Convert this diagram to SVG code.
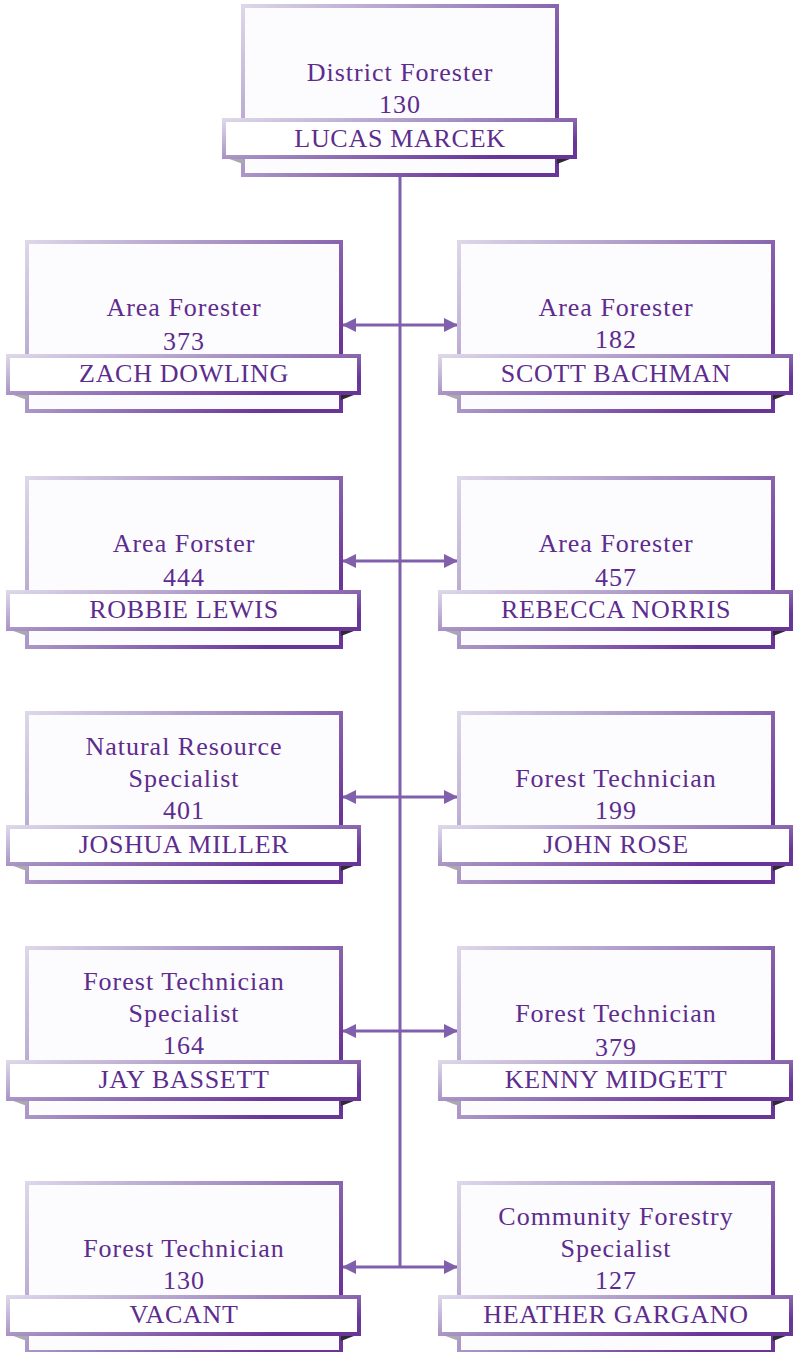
<svg xmlns="http://www.w3.org/2000/svg" width="793" height="1352" viewBox="0 0 793 1352">
<defs>
<linearGradient id="g" x1="0" y1="0" x2="1" y2="0.6">
<stop offset="0" stop-color="#ddd7e9"/>
<stop offset="0.5" stop-color="#a48dc2"/>
<stop offset="1" stop-color="#6a3598"/>
</linearGradient>
<marker id="ah" viewBox="0 0 14 14" refX="13" refY="7" markerWidth="14" markerHeight="14" markerUnits="userSpaceOnUse" orient="auto-start-reverse">
<path d="M0,0 L14,7 L0,14 Z" fill="#8060ac"/>
</marker>
</defs>
<style>
.t{font-family:"Liberation Serif","DejaVu Serif",serif;font-size:26px;fill:#5d2c8e;text-anchor:middle;letter-spacing:1px}
.n{letter-spacing:0.7px}
.b{fill:#fcfbfd;stroke:url(#g);stroke-width:4}
.w{fill:#ffffff;stroke:url(#g);stroke-width:4}
.fl{fill:#a9a9ae}
.fr{fill:#2d2a30}
.c{stroke:#8060ac;stroke-width:3;fill:none}
</style>
<g id="connectors">
<line class="c" x1="400" y1="177" x2="400" y2="1268"/>
<line class="c" x1="343" y1="325" x2="457" y2="325" marker-start="url(#ah)" marker-end="url(#ah)"/>
<line class="c" x1="343" y1="561" x2="457" y2="561" marker-start="url(#ah)" marker-end="url(#ah)"/>
<line class="c" x1="343" y1="797" x2="457" y2="797" marker-start="url(#ah)" marker-end="url(#ah)"/>
<line class="c" x1="343" y1="1031" x2="457" y2="1031" marker-start="url(#ah)" marker-end="url(#ah)"/>
<line class="c" x1="343" y1="1267" x2="457" y2="1267" marker-start="url(#ah)" marker-end="url(#ah)"/>
</g>
<g id="n-district">
<rect class="b" x="243" y="6" width="314" height="169"/>
<polygon class="fl" points="224,157 243,157 243,164"/>
<polygon class="fr" points="575,157 557,157 557,164"/>
<rect class="w" x="224" y="120" width="351" height="37"/>
<text class="t" x="400" y="81">District Forester</text>
<text class="t" x="400" y="113">130</text>
<text class="t n" x="400" y="147">LUCAS MARCEK</text>
</g>
<g id="n-zach" transform="translate(0,240)">
<rect class="b" x="27" y="2" width="314" height="169"/>
<polygon class="fl" points="8,153 27,153 27,160"/>
<polygon class="fr" points="359,153 341,153 341,160"/>
<text class="t" x="184" y="76">Area Forester</text>
<text class="t" x="184" y="110">373</text>
<rect class="w" x="8" y="116" width="351" height="37"/>
<text class="t n" x="184" y="142">ZACH DOWLING</text>
</g>
<g id="n-scott" transform="translate(432,240)">
<rect class="b" x="27" y="2" width="314" height="169"/>
<polygon class="fl" points="8,153 27,153 27,160"/>
<polygon class="fr" points="359,153 341,153 341,160"/>
<text class="t" x="184" y="76">Area Forester</text>
<text class="t" x="184" y="108">182</text>
<rect class="w" x="8" y="116" width="351" height="37"/>
<text class="t n" x="184" y="142">SCOTT BACHMAN</text>
</g>
<g id="n-robbie" transform="translate(0,476)">
<rect class="b" x="27" y="2" width="314" height="169"/>
<polygon class="fl" points="8,153 27,153 27,160"/>
<polygon class="fr" points="359,153 341,153 341,160"/>
<text class="t" x="184" y="76">Area Forster</text>
<text class="t" x="184" y="110">444</text>
<rect class="w" x="8" y="116" width="351" height="37"/>
<text class="t n" x="184" y="142">ROBBIE LEWIS</text>
</g>
<g id="n-rebecca" transform="translate(432,476)">
<rect class="b" x="27" y="2" width="314" height="169"/>
<polygon class="fl" points="8,153 27,153 27,160"/>
<polygon class="fr" points="359,153 341,153 341,160"/>
<text class="t" x="184" y="76">Area Forester</text>
<text class="t" x="184" y="110">457</text>
<rect class="w" x="8" y="116" width="351" height="37"/>
<text class="t n" x="184" y="142">REBECCA NORRIS</text>
</g>
<g id="n-joshua" transform="translate(0,711)">
<rect class="b" x="27" y="2" width="314" height="169"/>
<polygon class="fl" points="8,153 27,153 27,160"/>
<polygon class="fr" points="359,153 341,153 341,160"/>
<text class="t" x="184" y="44">Natural Resource</text>
<text class="t" x="184" y="76">Specialist</text>
<text class="t" x="184" y="108">401</text>
<rect class="w" x="8" y="116" width="351" height="37"/>
<text class="t n" x="184" y="142">JOSHUA MILLER</text>
</g>
<g id="n-john" transform="translate(432,711)">
<rect class="b" x="27" y="2" width="314" height="169"/>
<polygon class="fl" points="8,153 27,153 27,160"/>
<polygon class="fr" points="359,153 341,153 341,160"/>
<text class="t" x="184" y="76">Forest Technician</text>
<text class="t" x="184" y="108">199</text>
<rect class="w" x="8" y="116" width="351" height="37"/>
<text class="t n" x="184" y="142">JOHN ROSE</text>
</g>
<g id="n-jay" transform="translate(0,946)">
<rect class="b" x="27" y="2" width="314" height="169"/>
<polygon class="fl" points="8,153 27,153 27,160"/>
<polygon class="fr" points="359,153 341,153 341,160"/>
<text class="t" x="184" y="44">Forest Technician</text>
<text class="t" x="184" y="76">Specialist</text>
<text class="t" x="184" y="108">164</text>
<rect class="w" x="8" y="116" width="351" height="37"/>
<text class="t n" x="184" y="142">JAY BASSETT</text>
</g>
<g id="n-kenny" transform="translate(432,946)">
<rect class="b" x="27" y="2" width="314" height="169"/>
<polygon class="fl" points="8,153 27,153 27,160"/>
<polygon class="fr" points="359,153 341,153 341,160"/>
<text class="t" x="184" y="76">Forest Technician</text>
<text class="t" x="184" y="110">379</text>
<rect class="w" x="8" y="116" width="351" height="37"/>
<text class="t n" x="184" y="142">KENNY MIDGETT</text>
</g>
<g id="n-vacant" transform="translate(0,1181)">
<rect class="b" x="27" y="2" width="314" height="169"/>
<polygon class="fl" points="8,153 27,153 27,160"/>
<polygon class="fr" points="359,153 341,153 341,160"/>
<text class="t" x="184" y="76">Forest Technician</text>
<text class="t" x="184" y="108">130</text>
<rect class="w" x="8" y="116" width="351" height="37"/>
<text class="t n" x="184" y="142">VACANT</text>
</g>
<g id="n-heather" transform="translate(432,1181)">
<rect class="b" x="27" y="2" width="314" height="169"/>
<polygon class="fl" points="8,153 27,153 27,160"/>
<polygon class="fr" points="359,153 341,153 341,160"/>
<text class="t" x="184" y="44">Community Forestry</text>
<text class="t" x="184" y="76">Specialist</text>
<text class="t" x="184" y="108">127</text>
<rect class="w" x="8" y="116" width="351" height="37"/>
<text class="t n" x="184" y="142">HEATHER GARGANO</text>
</g>
</svg>
